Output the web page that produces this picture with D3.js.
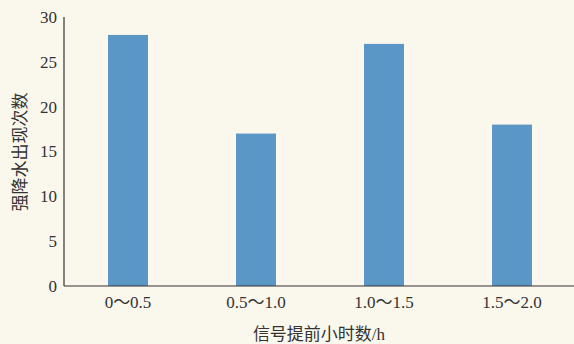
<!DOCTYPE html>
<html><head><meta charset="utf-8">
<script src="https://cdn.jsdelivr.net/npm/d3@7"></script>
<style>html,body{margin:0;padding:0;background:#faf7ed;}svg{display:block;}</style>
</head><body>
<svg id="c" width="574" height="344"></svg>
<script>
const categories = ["0～0.5", "0.5～1.0", "1.0～1.5", "1.5～2.0"];
const values = [28, 17, 27, 18];
const yTicks = [0, 5, 10, 15, 20, 25, 30];
const xTitle = "信号提前小时数/h";
const yTitle = "强降水出现次数";

const svg = d3.select("#c");
const W = 574, H = 344;
const m = {left: 64, top: 17, bottom: 286, right: 576};
svg.append("rect").attr("width", W).attr("height", H).attr("fill", "#faf7ed");

const x = d3.scaleBand().domain(categories).range([m.left, m.right]).paddingInner(0.6875).paddingOuter(0.34375);
const y = d3.scaleLinear().domain([0, 30]).range([m.bottom, 17]);

const font = "'Liberation Serif','Noto Sans CJK SC',serif";
const fs = 17;

svg.append("g").selectAll("rect").data(values).join("rect")
  .attr("x", (d, i) => x(categories[i]))
  .attr("y", d => y(d))
  .attr("width", x.bandwidth())
  .attr("height", d => y(0) - y(d))
  .attr("fill", "#5a96c6");

// y axis
const ya = svg.append("g").attr("transform", `translate(${m.left},0)`)
  .call(d3.axisLeft(y).tickValues(yTicks).tickSize(0).tickPadding(7));
ya.select(".domain").attr("d", `M0,${m.top}V${m.bottom}`).attr("stroke", "#333").attr("stroke-width", 1.2);
ya.selectAll("text").attr("font-family", font).attr("font-size", fs).attr("fill", "#333");

// x axis
const xa = svg.append("g").attr("transform", `translate(0,${m.bottom})`)
  .call(d3.axisBottom(x).tickSize(0).tickPadding(10));
xa.select(".domain").attr("d", `M${m.left},0H${W}`).attr("stroke", "#333").attr("stroke-width", 1.2);
xa.selectAll("text").attr("font-family", font).attr("font-size", fs).attr("fill", "#333");

svg.append("text").attr("x", 319).attr("y", 340)
  .attr("text-anchor", "middle").attr("font-family", font).attr("font-size", fs).attr("fill", "#333")
  .text(xTitle);
svg.append("text").attr("transform", "translate(26,152) rotate(-90)")
  .attr("text-anchor", "middle").attr("font-family", font).attr("font-size", fs).attr("fill", "#333")
  .text(yTitle);
</script>
</body></html>
